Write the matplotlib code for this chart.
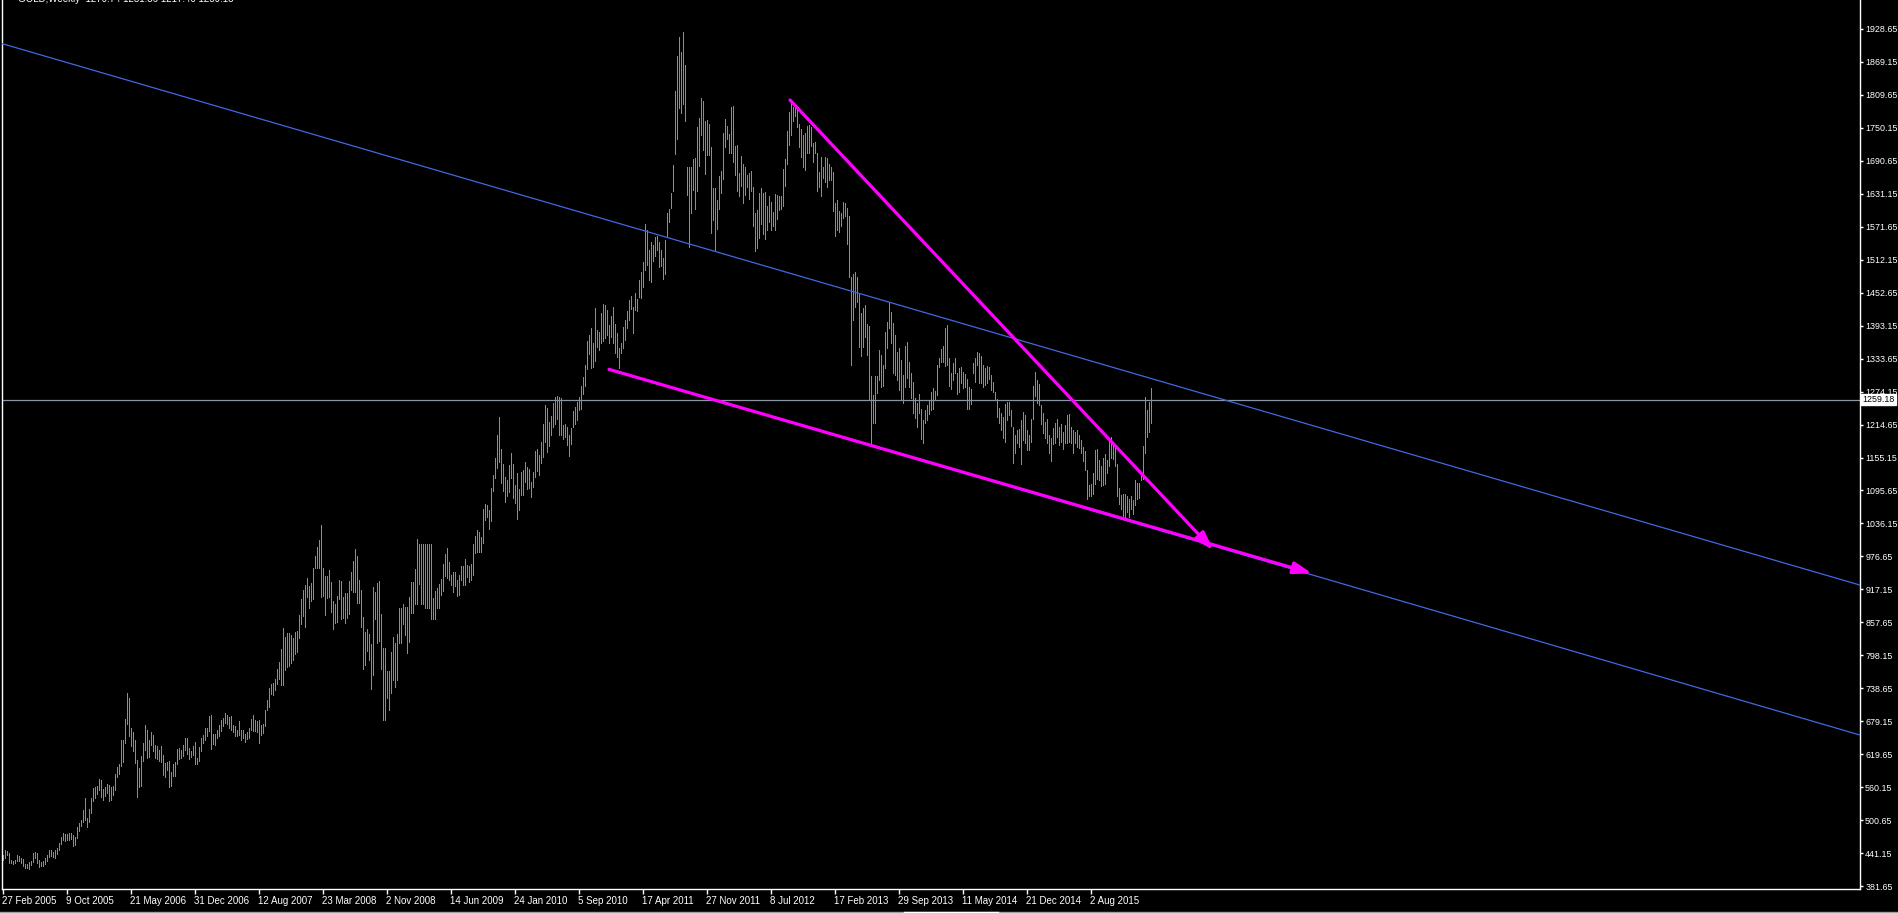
# GOLD weekly bar chart, MT4 look: channel lines + falling wedge arrows
import numpy as np
import matplotlib.pyplot as plt
import matplotlib.transforms as mtransforms
from matplotlib.lines import Line2D

plt.rcParams['font.family'] = ['Liberation Sans', 'DejaVu Sans']

# ---- weekly highs / lows, one list per calendar year (first bar = week of 27 Feb 2005) ----
high_2005 = [439, 447, 446, 441, 430, 428, 430, 438, 437, 432, 431, 422, 422, 426, 428, 442, 443, 441, 429, 426,
             428, 432, 438, 447, 448, 443, 448, 451, 460, 471, 478, 476, 476, 478, 477, 474, 470, 489, 496, 501,
             520, 541, 505, 522]
low_2005 = [430, 433, 438, 424, 423, 421, 423, 427, 428, 423, 419, 414, 415, 412, 420, 425, 433, 424, 416, 418,
            418, 422, 428, 434, 436, 434, 433, 440, 447, 458, 466, 464, 466, 465, 467, 455, 456, 468, 482, 490,
            498, 502, 489, 498]
high_2006 = [541, 559, 561, 562, 576, 574, 557, 560, 566, 565, 561, 563, 584, 597, 603, 645, 645, 684, 730, 722,
             668, 660, 645, 610, 595, 616, 640, 672, 663, 646, 660, 654, 636, 634, 628, 634, 618, 604, 606, 607,
             588, 603, 605, 629, 632, 628, 637, 649, 650, 631, 625, 635]
low_2006 = [513, 535, 541, 548, 555, 542, 538, 545, 550, 535, 538, 546, 556, 578, 585, 598, 605, 640, 675, 652,
            634, 626, 604, 543, 560, 562, 608, 628, 614, 615, 636, 626, 613, 611, 608, 605, 583, 578, 591, 560,
            562, 580, 581, 602, 611, 614, 616, 628, 620, 612, 615, 618]
high_2007 = [642, 613, 633, 650, 655, 667, 667, 688, 691, 656, 656, 663, 672, 681, 685, 694, 690, 687, 689, 672,
             670, 664, 680, 663, 663, 656, 660, 667, 683, 691, 682, 680, 681, 672, 674, 700, 718, 740, 746, 748,
             756, 773, 786, 809, 847, 832, 838, 838, 835, 830, 840, 842]
low_2007 = [603, 602, 608, 626, 640, 645, 653, 662, 630, 638, 636, 650, 652, 662, 671, 676, 675, 668, 663, 660,
            652, 652, 655, 645, 649, 642, 647, 650, 663, 662, 662, 660, 641, 655, 658, 670, 699, 706, 729, 726,
            735, 747, 756, 745, 745, 772, 778, 779, 784, 790, 800, 805]
high_2008 = [871, 900, 916, 925, 937, 923, 929, 955, 977, 994, 1007, 1033, 955, 941, 941, 953, 931, 897, 891, 905,
             935, 932, 903, 910, 910, 933, 948, 968, 990, 977, 934, 916, 868, 841, 845, 837, 819, 921, 913, 928,
             932, 873, 812, 812, 770, 770, 805, 832, 820, 837, 883, 883]
low_2008 = [830, 854, 869, 850, 904, 884, 897, 900, 956, 956, 955, 904, 906, 871, 901, 904, 877, 845, 856, 859,
            900, 864, 865, 857, 866, 873, 917, 913, 913, 893, 893, 850, 773, 781, 807, 790, 737, 763, 863, 820,
            825, 773, 682, 682, 722, 700, 731, 754, 742, 754, 820, 820]
high_2009 = [891, 886, 886, 904, 931, 931, 954, 1008, 999, 999, 999, 999, 999, 999, 999, 902, 914, 920, 927, 936,
             963, 981, 992, 967, 943, 949, 949, 934, 943, 959, 959, 972, 961, 959, 963, 999, 1013, 1024, 1021, 1012,
             1062, 1071, 1069, 1060, 1101, 1124, 1154, 1196, 1229, 1170, 1143, 1120, 1115]
low_2009 = [855, 835, 802, 823, 875, 875, 891, 891, 927, 891, 891, 883, 883, 883, 864, 864, 864, 883, 883, 907,
            914, 941, 937, 934, 925, 913, 923, 905, 907, 934, 925, 925, 940, 931, 934, 943, 982, 985, 985, 985,
            1001, 1042, 1048, 1026, 1040, 1095, 1118, 1136, 1147, 1109, 1095, 1075, 1086]
high_2010 = [1142, 1163, 1143, 1106, 1127, 1098, 1129, 1133, 1147, 1138, 1134, 1111, 1129, 1167, 1170, 1160, 1183,
             1216, 1250, 1244, 1219, 1230, 1253, 1264, 1266, 1264, 1262, 1213, 1215, 1210, 1195, 1208, 1239, 1247,
             1255, 1265, 1285, 1301, 1322, 1366, 1377, 1388, 1361, 1425, 1385, 1382, 1415, 1432, 1431, 1421, 1395, 1411]
low_2010 = [1093, 1118, 1082, 1073, 1044, 1060, 1087, 1087, 1111, 1098, 1100, 1084, 1102, 1120, 1131, 1124, 1145,
            1156, 1183, 1165, 1176, 1196, 1210, 1216, 1225, 1196, 1195, 1189, 1193, 1177, 1157, 1180, 1210, 1215,
            1222, 1241, 1242, 1269, 1285, 1315, 1341, 1316, 1319, 1329, 1355, 1349, 1361, 1366, 1371, 1376, 1361, 1373]
high_2011 = [1426, 1396, 1379, 1353, 1361, 1391, 1403, 1419, 1440, 1446, 1427, 1452, 1441, 1475, 1490, 1507, 1577,
             1565, 1529, 1544, 1539, 1553, 1554, 1543, 1529, 1515, 1547, 1597, 1603, 1633, 1683, 1816, 1880, 1914,
             1886, 1922, 1863, 1680, 1680, 1680, 1693, 1696, 1752, 1768, 1803, 1798, 1762, 1764, 1756, 1716, 1642, 1641]
low_2011 = [1361, 1343, 1337, 1316, 1343, 1352, 1367, 1389, 1403, 1423, 1379, 1421, 1420, 1444, 1443, 1463, 1493,
            1502, 1475, 1472, 1509, 1519, 1529, 1498, 1501, 1478, 1487, 1555, 1580, 1606, 1636, 1702, 1729, 1785,
            1776, 1793, 1763, 1629, 1534, 1596, 1638, 1604, 1635, 1681, 1736, 1710, 1666, 1701, 1701, 1561, 1584, 1529]
high_2012 = [1620, 1663, 1672, 1740, 1765, 1753, 1738, 1788, 1790, 1717, 1718, 1669, 1699, 1684, 1680, 1665, 1669,
             1672, 1644, 1597, 1601, 1632, 1641, 1633, 1634, 1609, 1627, 1616, 1598, 1630, 1628, 1627, 1627, 1675,
             1693, 1744, 1779, 1794, 1787, 1785, 1787, 1757, 1747, 1737, 1740, 1753, 1755, 1752, 1723, 1725, 1705, 1671]
low_2012 = [1567, 1604, 1632, 1657, 1716, 1729, 1704, 1705, 1688, 1665, 1635, 1627, 1645, 1614, 1629, 1644, 1621,
            1635, 1573, 1527, 1533, 1552, 1577, 1559, 1549, 1565, 1580, 1565, 1573, 1565, 1585, 1601, 1604, 1609,
            1645, 1684, 1719, 1737, 1762, 1771, 1752, 1716, 1698, 1680, 1674, 1704, 1705, 1717, 1689, 1705, 1636, 1644]
high_2013 = [1697, 1680, 1698, 1696, 1684, 1680, 1670, 1615, 1620, 1600, 1597, 1616, 1615, 1605, 1590, 1480, 1487,
             1490, 1480, 1451, 1415, 1424, 1430, 1396, 1392, 1302, 1268, 1302, 1302, 1349, 1340, 1322, 1382, 1400,
             1436, 1418, 1397, 1376, 1346, 1352, 1331, 1304, 1356, 1364, 1328, 1308, 1292, 1262, 1254, 1270, 1242, 1223]
low_2013 = [1626, 1659, 1653, 1644, 1656, 1655, 1600, 1555, 1565, 1562, 1572, 1588, 1590, 1540, 1481, 1322, 1403,
            1427, 1436, 1355, 1338, 1355, 1372, 1340, 1259, 1180, 1217, 1217, 1271, 1295, 1283, 1284, 1316, 1352,
            1388, 1361, 1307, 1304, 1295, 1277, 1259, 1253, 1283, 1298, 1283, 1262, 1235, 1226, 1211, 1235, 1188, 1182]
high_2014 = [1241, 1250, 1259, 1273, 1281, 1276, 1322, 1334, 1350, 1356, 1389, 1394, 1334, 1307, 1325, 1334, 1307,
             1316, 1318, 1310, 1306, 1296, 1283, 1279, 1325, 1334, 1346, 1343, 1338, 1322, 1316, 1320, 1319, 1304,
             1292, 1274, 1260, 1244, 1235, 1228, 1252, 1256, 1256, 1240, 1211, 1196, 1205, 1206, 1223, 1238, 1232, 1205]
low_2014 = [1217, 1223, 1234, 1241, 1242, 1258, 1268, 1319, 1328, 1328, 1320, 1322, 1284, 1278, 1295, 1308, 1270,
            1274, 1290, 1280, 1283, 1242, 1242, 1252, 1307, 1292, 1322, 1289, 1290, 1283, 1286, 1289, 1296, 1277,
            1274, 1259, 1229, 1217, 1205, 1190, 1184, 1223, 1232, 1212, 1145, 1164, 1181, 1175, 1143, 1187, 1181, 1169]
high_2015 = [1196, 1224, 1284, 1309, 1295, 1287, 1250, 1236, 1220, 1224, 1196, 1190, 1208, 1217, 1224, 1211, 1216,
             1202, 1214, 1232, 1234, 1210, 1205, 1202, 1205, 1196, 1187, 1175, 1167, 1133, 1106, 1108, 1128, 1169,
             1170, 1151, 1140, 1155, 1162, 1151, 1187, 1192, 1184, 1180, 1143, 1101, 1087, 1089, 1089, 1085, 1080,
             1085, 1079]
low_2015 = [1169, 1184, 1224, 1266, 1253, 1250, 1216, 1199, 1190, 1182, 1164, 1148, 1180, 1181, 1193, 1178, 1184,
            1170, 1181, 1181, 1184, 1181, 1163, 1182, 1175, 1172, 1163, 1149, 1133, 1080, 1085, 1085, 1090, 1108,
            1117, 1114, 1104, 1105, 1108, 1127, 1140, 1155, 1152, 1140, 1086, 1072, 1063, 1048, 1048, 1057, 1048,
            1063, 1054]
high_2016 = [1115, 1110, 1110, 1128, 1176, 1265, 1241, 1256, 1281]
low_2016 = [1069, 1081, 1083, 1115, 1116, 1164, 1192, 1202, 1217]

last_price = 1259.18
title_text = 'GOLD,Weekly  1270.74 1281.86 1217.40 1259.18'

# price scale labels and date labels (one every 32 bars)
price_ticks = [381.65 + 59.5 * k for k in range(27)]
date_labels = ['27 Feb 2005', '9 Oct 2005', '21 May 2006', '31 Dec 2006', '12 Aug 2007', '23 Mar 2008',
               '2 Nov 2008', '14 Jun 2009', '24 Jan 2010', '5 Sep 2010', '17 Apr 2011', '27 Nov 2011',
               '8 Jul 2012', '17 Feb 2013', '29 Sep 2013', '11 May 2014', '21 Dec 2014', '2 Aug 2015']

# drawn objects: (bar index, price) end points
channel_top = [(-0.5, 1902.0), (928.75, 925.0)]
channel_bottom = [(303.25, 1314.2), (928.75, 654.5)]
wedge_lower = [(303.25, 1314.2), (654.75, 946.0)]
wedge_upper = [(393.75, 1800.0), (605.4, 988.3)]

highs = np.array(high_2005 + high_2006 + high_2007 + high_2008 + high_2009 + high_2010 + high_2011 +
                 high_2012 + high_2013 + high_2014 + high_2015 + high_2016, dtype=float)
lows = np.array(low_2005 + low_2006 + low_2007 + low_2008 + low_2009 + low_2010 + low_2011 +
                low_2012 + low_2013 + low_2014 + low_2015 + low_2016, dtype=float)
bars = np.arange(len(highs))

# ---- figure ----
W, H = 1898, 913
fig = plt.figure(figsize=(W / 100, H / 100), dpi=100, facecolor='black')
ax = fig.add_axes([1.5 / W, (H - 889) / H, (1860 - 1.5) / W, 889 / H])
ax.set_facecolor('black')

px = 59.5 / 32.985          # price per pixel
ax.set_xlim(-0.5, 928.75)
ax.set_ylim(1928.65 - (889 - 28.7) * px, 1928.65 + 28.7 * px)

ax.axhline(last_price, color='#8a94a3', lw=0.9, zorder=1)
ax.vlines(bars, lows, highs, colors='#00f000', lw=0.7, antialiased=False, zorder=2)

blue = '#4169e1'
for seg in (channel_top, channel_bottom):
    ax.plot([seg[0][0], seg[1][0]], [seg[0][1], seg[1][1]], color=blue, lw=0.9, zorder=3)

for seg in (wedge_lower, wedge_upper):
    ax.annotate('', xy=seg[1], xytext=seg[0],
                arrowprops=dict(arrowstyle='-|>,head_length=0.55,head_width=0.18',
                                color='#ff00ff', lw=2.3, mutation_scale=20,
                                shrinkA=0, shrinkB=0), zorder=4)

# axes look
for s in ('left', 'bottom', 'right'):
    ax.spines[s].set_color('white')
    ax.spines[s].set_linewidth(1.0)
ax.spines['top'].set_visible(False)

ax.yaxis.tick_right()
ax.set_yticks(price_ticks)
ax.set_yticklabels(['%.2f' % p for p in price_ticks])
ax.tick_params(axis='y', colors='white', length=2.5, width=1, pad=1.2, labelsize=6.4)

ax.set_xticks([32 * k for k in range(len(date_labels))])
ax.set_xticklabels(date_labels, ha='left')
ax.tick_params(axis='x', colors='white', length=3.5, width=1, pad=1.5, labelsize=7)

# current price box on the scale
trans = mtransforms.blended_transform_factory(ax.transAxes, ax.transData)
ax.text(1 + 2.5 / 1858.5, last_price, '%.2f' % last_price, transform=trans, ha='left', va='center',
        fontsize=6.4, color='black', bbox=dict(facecolor='white', edgecolor='white', pad=0.8), zorder=6)

# title (mostly cut off at the top) and window border
fig.text(18 / W, 1 - 1.5 / H, title_text, color='white', fontsize=7, va='baseline')
fig.add_artist(Line2D([0, 1], [1.5 / H, 1.5 / H], color='#a0a0a0', lw=1))
fig.add_artist(Line2D([904 / W, 998 / W], [1.5 / H, 1.5 / H], color='white', lw=1))

fig.savefig('out.png', dpi=100, facecolor='black')
